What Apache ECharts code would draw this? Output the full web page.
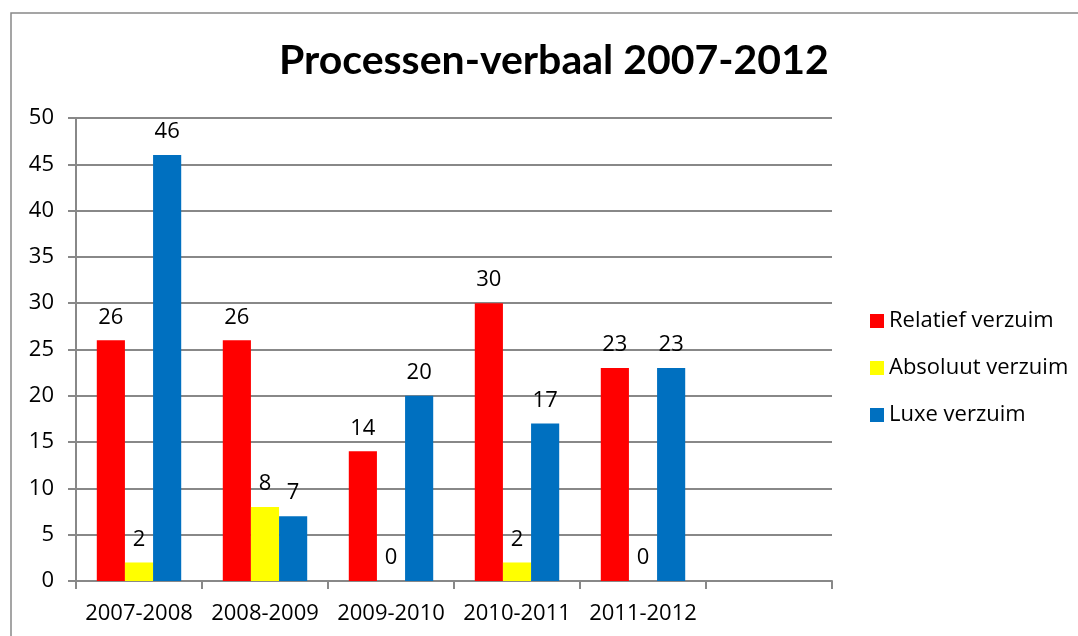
<!DOCTYPE html>
<html>
<head>
<meta charset="utf-8">
<title>Processen-verbaal 2007-2012</title>
<script src="https://cdn.jsdelivr.net/npm/echarts@6/dist/echarts.min.js"></script>
<style>
  html, body { margin: 0; padding: 0; background: #fff; }
  .pvchart { width: 1078px; height: 636px; }
</style>
</head>
<body>
<div class="pvchart" id="pvchart"></div>
<script>
// schooljaren (laatste categorie is leeg in het origineel)
const categories = ["2007-2008", "2008-2009", "2009-2010", "2010-2011", "2011-2012", ""];
const seriesNames = ["Relatief verzuim", "Absoluut verzuim", "Luxe verzuim"];
const relatief = [26, 26, 14, 30, 23, null];
const absoluut = [2, 8, 0, 2, 0, null];
const luxe = [46, 7, 20, 17, 23, null];
const yTicks = [0, 5, 10, 15, 20, 25, 30, 35, 40, 45, 50];

const FONT = "Open Sans";
const TITLE_FONT = "Lato";
const GRAY = "#888888";

const barLabel = {
  show: true,
  position: "top",
  distance: 12,
  color: "#000",
  fontFamily: FONT,
  fontSize: 22,
};

const makeSeries = (name, data, color) => ({
  name: name,
  type: "bar",
  data: data,
  barGap: "0%",
  barCategoryGap: "33%",
  itemStyle: { color: color },
  label: barLabel,
  animation: false,
});

var option = {
  animation: false,
  textStyle: { fontFamily: FONT },
  title: {
    text: "Processen-verbaal 2007-2012",
    left: 279,
    top: 40,
    padding: 0,
    textStyle: {
      fontFamily: TITLE_FONT,
      fontWeight: "bold",
      fontSize: 41,
      color: "#000",
    },
  },
  legend: {
    data: seriesNames,
    orient: "vertical",
    left: 870,
    top: 310,
    padding: 0,
    icon: "rect",
    itemWidth: 14,
    itemHeight: 14,
    itemGap: 25,
    textStyle: {
      fontFamily: FONT,
      fontSize: 22,
      color: "#000",
      padding: [0, 0, 0, 0],
    },
  },
  // rand om de grafiek
  graphic: [
    {
      type: "rect",
      shape: { x: 11, y: 13, width: 1200, height: 800 },
      style: { fill: "none", stroke: GRAY, lineWidth: 1.5 },
      silent: true,
    },
  ],
  grid: {
    left: 76,
    right: 246,
    top: 118,
    bottom: 55,
  },
  xAxis: {
    type: "category",
    data: categories,
    axisLine: { lineStyle: { color: GRAY, width: 2 } },
    axisTick: { show: true, length: 8, lineStyle: { color: GRAY, width: 2 } },
    axisLabel: {
      color: "#000",
      fontFamily: FONT,
      fontSize: 22,
      margin: 22,
      interval: 0,
    },
  },
  yAxis: {
    type: "value",
    min: yTicks[0],
    max: yTicks[yTicks.length - 1],
    interval: yTicks[1] - yTicks[0],
    axisLine: { show: true, lineStyle: { color: GRAY, width: 2 } },
    axisTick: { show: true, length: 8, lineStyle: { color: GRAY, width: 2 } },
    splitLine: { lineStyle: { color: GRAY, width: 2 } },
    axisLabel: {
      color: "#000",
      fontFamily: FONT,
      fontSize: 22,
      margin: 22,
    },
  },
  series: [
    makeSeries(seriesNames[0], relatief, "#FF0000"),
    makeSeries(seriesNames[1], absoluut, "#FFFF00"),
    makeSeries(seriesNames[2], luxe, "#0070C0"),
  ],
};

// grafiek opbouwen
var pvChart = echarts.init(document.getElementById("pvchart"));
pvChart.setOption(option);

window.addEventListener("resize", function () {
  pvChart.resize();
});
</script>
</body>
</html>
